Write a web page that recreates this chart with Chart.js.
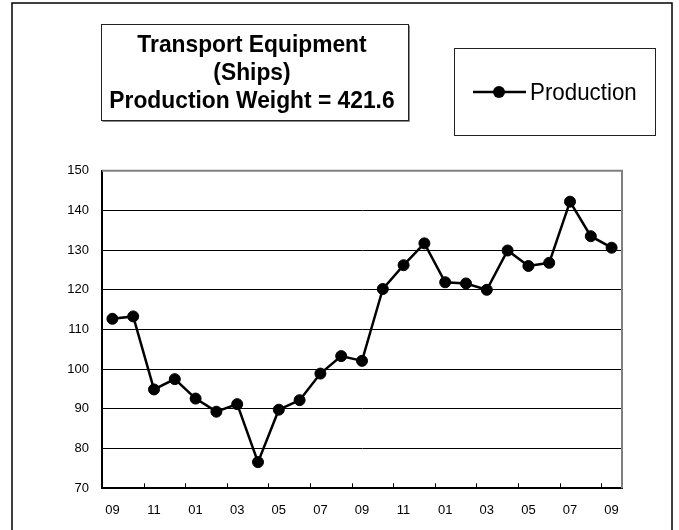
<!DOCTYPE html>
<html>
<head>
<meta charset="utf-8">
<script src="https://cdn.jsdelivr.net/npm/chart.js@4"></script>
<style>
  body { margin: 0; background: #fff; }
  canvas { display: block; }
</style>
</head>
<body>
<canvas id="chart" width="679" height="530"></canvas>
<script>
const months = ['09', '10', '11', '12', '01', '02', '03', '04', '05', '06', '07', '08',
                '09', '10', '11', '12', '01', '02', '03', '04', '05', '06', '07', '08', '09'];
const production = [112.7, 113.3, 94.9, 97.5, 92.6, 89.3, 91.2, 76.6, 89.8, 92.2, 98.9, 103.3,
                    102.1, 120.2, 126.2, 131.7, 121.9, 121.6, 120.0, 129.9, 126.0, 126.8, 142.2, 133.5, 130.6];
const titleLines = ['Transport Equipment', '(Ships)', 'Production Weight = 421.6'];
const seriesName = 'Production';
const yTicks = { min: 70, max: 150, step: 10 };

const FONT = '"Liberation Sans", Arial, sans-serif';

// boxes, frame and inward ticks, Excel style
const decor = {
    id: 'decor',
    beforeDatasetsDraw(chart) {
        const ctx = chart.ctx;
        const a = chart.chartArea;
        const x = chart.scales.x;
        ctx.save();
        // grey top/right plot border
        ctx.strokeStyle = '#808080';
        ctx.lineWidth = 2;
        ctx.beginPath();
        ctx.moveTo(a.left, a.top);
        ctx.lineTo(a.right, a.top);
        ctx.lineTo(a.right, a.bottom);
        ctx.stroke();
        // tick marks between categories, every second month
        ctx.strokeStyle = '#000';
        ctx.lineWidth = 1;
        for (let k = 2; k < months.length; k += 2) {
            const px = Math.round(x.getPixelForValue(k - 0.5)) + 0.5;
            ctx.beginPath();
            ctx.moveTo(px, a.bottom);
            ctx.lineTo(px, a.bottom - 5);
            ctx.stroke();
        }
        ctx.restore();
    },
    afterDraw(chart) {
        const ctx = chart.ctx;
        ctx.save();
        // outer frame
        ctx.strokeStyle = '#000';
        ctx.lineWidth = 1.5;
        ctx.strokeRect(12, 3, 660, 560);

        // title box
        ctx.fillStyle = '#fff';
        ctx.fillRect(101, 24, 307, 96);
        ctx.strokeStyle = '#888';
        ctx.lineWidth = 1;
        ctx.beginPath();
        ctx.moveTo(102.5, 121.5);
        ctx.lineTo(409.5, 121.5);
        ctx.lineTo(409.5, 25.5);
        ctx.stroke();
        ctx.strokeStyle = '#222';
        ctx.strokeRect(101.5, 24.5, 307, 96);
        ctx.fillStyle = '#000';
        ctx.font = 'bold 24px ' + FONT;
        ctx.textAlign = 'center';
        ctx.textBaseline = 'alphabetic';
        titleLines.forEach((line, i) => {
            ctx.save();
            ctx.translate(252, 52 + i * 28);
            ctx.scale(0.95, 1);
            ctx.fillText(line, 0, 0);
            ctx.restore();
        });

        // legend box
        ctx.strokeStyle = '#222';
        ctx.strokeRect(454.5, 48.5, 201, 87);
        ctx.strokeStyle = '#000';
        ctx.lineWidth = 2.5;
        ctx.beginPath();
        ctx.moveTo(473, 92);
        ctx.lineTo(526, 92);
        ctx.stroke();
        ctx.beginPath();
        ctx.arc(499, 92, 6, 0, Math.PI * 2);
        ctx.fill();
        ctx.font = '24px ' + FONT;
        ctx.textAlign = 'left';
        ctx.textBaseline = 'middle';
        ctx.save();
        ctx.translate(530, 93);
        ctx.scale(0.93, 1);
        ctx.fillText(seriesName, 0, 0);
        ctx.restore();
        ctx.restore();
    }
};

new Chart(document.getElementById('chart').getContext('2d'), {
    type: 'line',
    data: {
        labels: months,
        datasets: [{
            label: seriesName,
            data: production,
            borderColor: '#000',
            backgroundColor: '#000',
            borderWidth: 2.5,
            pointRadius: 5.5,
            pointBorderWidth: 1,
            pointBackgroundColor: '#000',
            pointBorderColor: '#000',
            tension: 0
        }]
    },
    options: {
        responsive: false,
        animation: false,
        layout: { padding: { top: 170.7, right: 57, left: 0, bottom: 0 } },
        plugins: {
            legend: { display: false },
            title: { display: false },
            tooltip: { enabled: false }
        },
        scales: {
            x: {
                offset: true,
                grid: { display: false, drawTicks: false },
                border: { display: true, color: '#000', width: 2 },
                ticks: {
                    autoSkip: false,
                    maxRotation: 0,
                    padding: 14,
                    color: '#000',
                    font: { family: FONT, size: 13 },
                    callback: (v, i) => (i % 2 === 0 ? months[i] : '')
                },
                afterFit(scale) { scale.height = 41.7; }
            },
            y: {
                min: yTicks.min,
                max: yTicks.max,
                grid: { color: '#000', lineWidth: 1, drawTicks: false },
                border: { display: true, color: '#000', width: 2 },
                ticks: {
                    stepSize: yTicks.step,
                    padding: 13,
                    color: '#000',
                    font: { family: FONT, size: 13 }
                },
                afterFit(scale) { scale.width = 102; }
            }
        }
    },
    plugins: [decor]
});
</script>
</body>
</html>
